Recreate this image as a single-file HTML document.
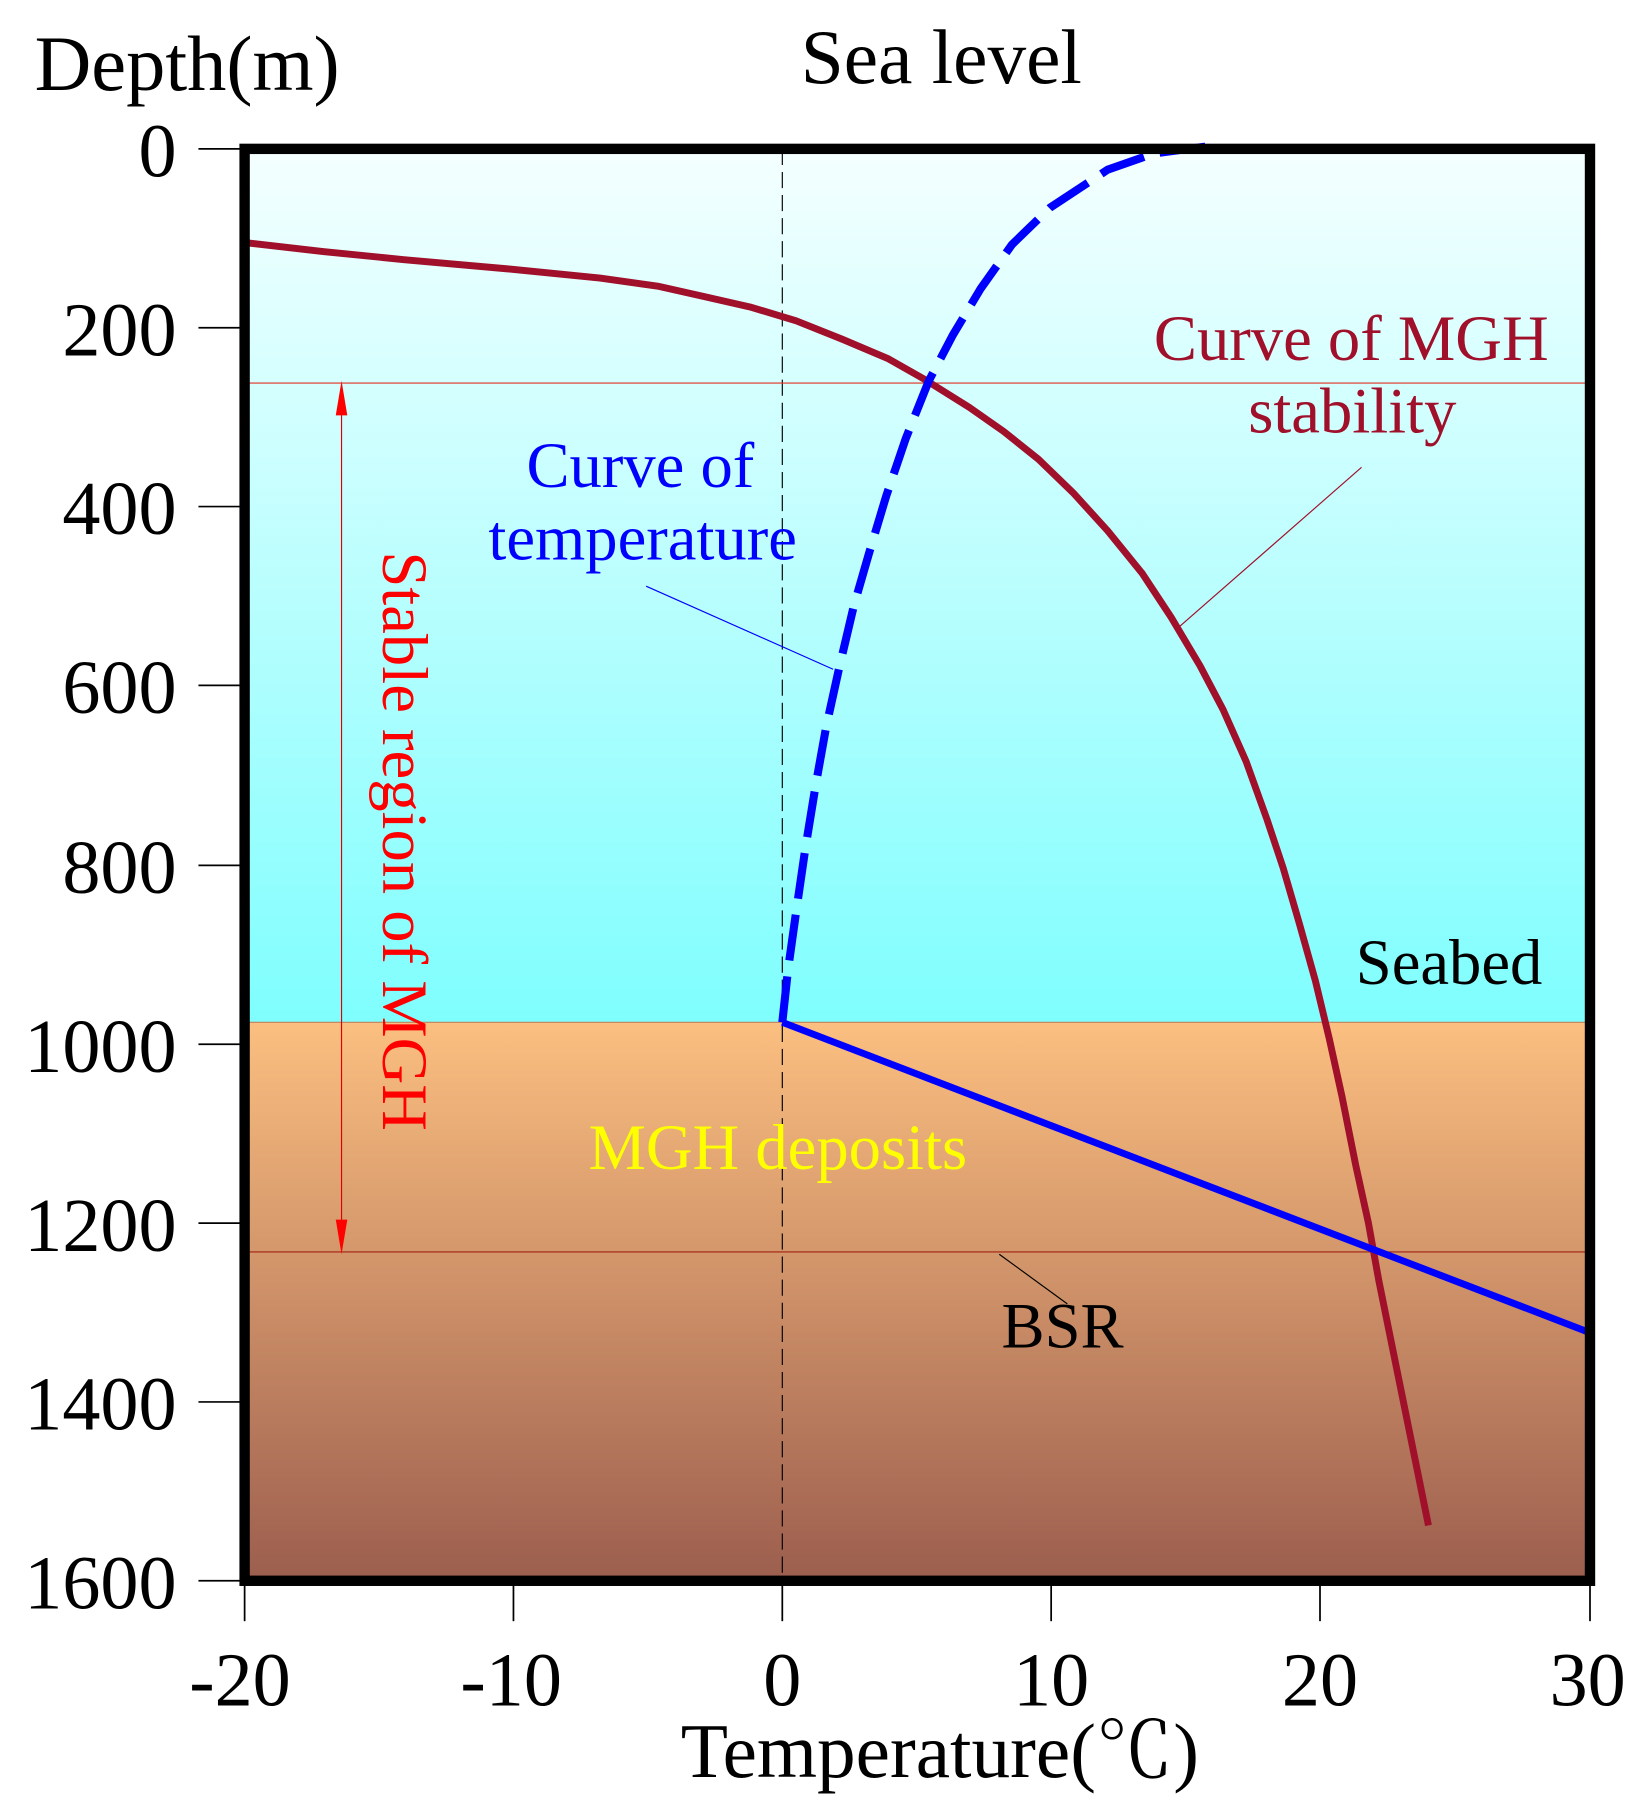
<!DOCTYPE html>
<html><head><style>html,body{margin:0;padding:0;background:#fff}svg{display:block}</style></head>
<body>
<svg width="1650" height="1811" viewBox="0 0 1430 1569.5" xmlns="http://www.w3.org/2000/svg" font-family="Liberation Serif, serif">
<defs>
<linearGradient id="w" x1="0" y1="0" x2="0" y2="1"><stop offset="0" stop-color="#f5ffff"/><stop offset="1" stop-color="#7ffefe"/></linearGradient>
<linearGradient id="s" x1="0" y1="0" x2="0" y2="1"><stop offset="0" stop-color="#fbbf80"/><stop offset="1" stop-color="#9c5e4e"/></linearGradient>
</defs>
<rect x="212" y="129" width="1166" height="757" fill="url(#w)"/>
<rect x="212" y="886" width="1166" height="484" fill="url(#s)"/>
<line x1="212" y1="886" x2="1378" y2="886" stroke="#c08060" stroke-width="1"/>
<line x1="678" y1="129" x2="678" y2="1370" stroke="#000" stroke-width="1" stroke-dasharray="14,6"/>
<line x1="212" y1="332" x2="1378" y2="332" stroke="#e03020" stroke-width="1"/>
<line x1="212" y1="1085" x2="1378" y2="1085" stroke="#a02010" stroke-width="1"/>
<line x1="296" y1="345" x2="296" y2="1072" stroke="#e00000" stroke-width="1"/>
<polygon points="296,330 291,360 301,360" fill="#ff0000"/>
<polygon points="296,1087 291,1057 301,1057" fill="#ff0000"/>
<line x1="560" y1="508" x2="722" y2="580" stroke="#0000ff" stroke-width="1"/>
<line x1="1180" y1="405" x2="1020" y2="545" stroke="#a0102a" stroke-width="1"/>
<line x1="866" y1="1087" x2="925" y2="1130" stroke="#000" stroke-width="1"/>
<polyline fill="none" stroke="#a0102a" stroke-width="6" stroke-linejoin="round" points="210,210 280,218 350,225 440,233 520,241 570,248 610,257 650,266 690,278 730,294 770,311 800,328 840,353 870,374 900,398 930,427 960,460 990,497 1015,535 1040,577 1060,615 1080,660 1098,710 1112,752 1126,800 1140,850 1152,900 1163,950 1175,1010 1186,1060 1195,1110 1238,1322"/>
<polyline fill="none" stroke="#0000ff" stroke-width="7" stroke-dasharray="40,14" points="678,886 683,840 690,790 698,735 707,680 716,630 727,580 740,525 753,480 768,430 785,380 805,330 826,290 850,250 877,212 910,180 960,147 1000,133 1045,127"/>
<line x1="678" y1="886" x2="1378" y2="1155" stroke="#0000ff" stroke-width="6"/>
<rect x="212" y="129" width="1166" height="1241" fill="none" stroke="#000" stroke-width="9"/>
<g stroke="#000" stroke-width="1.5">
<line x1="172" y1="129" x2="212" y2="129"/><line x1="172" y1="284" x2="212" y2="284"/><line x1="172" y1="439" x2="212" y2="439"/><line x1="172" y1="594" x2="212" y2="594"/><line x1="172" y1="750" x2="212" y2="750"/><line x1="172" y1="905" x2="212" y2="905"/><line x1="172" y1="1060" x2="212" y2="1060"/><line x1="172" y1="1215" x2="212" y2="1215"/><line x1="172" y1="1370" x2="212" y2="1370"/>
<line x1="212" y1="1370" x2="212" y2="1405"/><line x1="445" y1="1370" x2="445" y2="1405"/><line x1="678" y1="1370" x2="678" y2="1405"/><line x1="911" y1="1370" x2="911" y2="1405"/><line x1="1144" y1="1370" x2="1144" y2="1405"/><line x1="1378" y1="1370" x2="1378" y2="1405"/>
</g>
<g font-size="66" text-anchor="end">
<text x="153" y="153">0</text><text x="153" y="308">200</text><text x="153" y="463">400</text><text x="153" y="618">600</text><text x="153" y="774">800</text><text x="153" y="929">1000</text><text x="153" y="1084">1200</text><text x="153" y="1239">1400</text><text x="153" y="1394">1600</text>
</g>
<g font-size="66" text-anchor="middle">
<text x="208" y="1478">-20</text><text x="443" y="1478">-10</text><text x="678" y="1478">0</text><text x="911" y="1478">10</text><text x="1144" y="1478">20</text><text x="1376" y="1478">30</text>
</g>
<text x="30" y="78" font-size="68">Depth(m)</text>
<text x="694" y="72" font-size="67">Sea level</text>
<text x="590" y="1540" font-size="67" font-family="Liberation Serif, Noto Serif CJK SC, serif">Temperature(℃)</text>
<g font-size="56">
<text x="1000" y="312" fill="#a0102a">Curve of MGH</text>
<text x="1172" y="375" fill="#a0102a" text-anchor="middle">stability</text>
<text x="555" y="422" fill="#0000ff" text-anchor="middle">Curve of</text>
<text x="557" y="485" fill="#0000ff" text-anchor="middle">temperature</text>
<text x="1175" y="853">Seabed</text>
<text x="510" y="1013" fill="#ffff00">MGH deposits</text>
<text x="868" y="1168">BSR</text>
<text transform="translate(332,729) rotate(90)" fill="#ff0000" text-anchor="middle">Stable region of MGH</text>
</g>
</svg>
</body></html>
